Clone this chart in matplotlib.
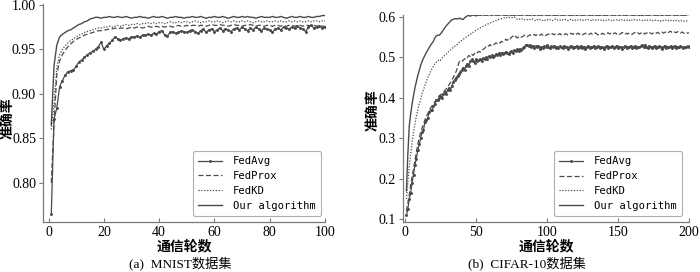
import numpy as np
import matplotlib
matplotlib.use("Agg")
import matplotlib.pyplot as plt
from matplotlib.ticker import FormatStrFormatter

# ---- data: MNIST, rounds 1..100 ----
mnist_rounds = np.arange(1, 101)
mnist_fedavg = [
    0.765, 0.872, 0.884, 0.908, 0.915, 0.921, 0.925, 0.926, 0.927, 0.931,
    0.936, 0.938, 0.941, 0.944, 0.946, 0.948, 0.950, 0.953, 0.958, 0.950,
    0.954, 0.957, 0.960, 0.964, 0.962, 0.960, 0.962, 0.963, 0.962, 0.964,
    0.964, 0.965, 0.964, 0.966, 0.966, 0.967, 0.966, 0.968, 0.967, 0.970,
    0.971, 0.966, 0.965, 0.969, 0.970, 0.968, 0.969, 0.971, 0.970, 0.969,
    0.971, 0.972, 0.970, 0.968, 0.971, 0.973, 0.969, 0.972, 0.973, 0.970,
    0.972, 0.974, 0.971, 0.973, 0.972, 0.970, 0.973, 0.974, 0.972, 0.975,
    0.973, 0.971, 0.974, 0.972, 0.975, 0.973, 0.971, 0.974, 0.973, 0.972,
    0.969, 0.973, 0.974, 0.972, 0.975, 0.974, 0.973, 0.975, 0.974, 0.976,
    0.974, 0.973, 0.970, 0.975, 0.977, 0.974, 0.975, 0.976, 0.974, 0.975]
mnist_fedprox = [
    0.800, 0.868, 0.922, 0.937, 0.944, 0.949, 0.953, 0.956, 0.959, 0.961,
    0.963, 0.964, 0.966, 0.967, 0.968, 0.969, 0.970, 0.971, 0.971, 0.972,
    0.972, 0.973, 0.973, 0.974, 0.973, 0.974, 0.974, 0.973, 0.974, 0.975,
    0.974, 0.975, 0.975, 0.974, 0.975, 0.976, 0.975, 0.975, 0.976, 0.975,
    0.976, 0.975, 0.976, 0.976, 0.975, 0.976, 0.977, 0.976, 0.976, 0.977,
    0.976, 0.977, 0.977, 0.976, 0.977, 0.977, 0.976, 0.977, 0.978, 0.977,
    0.977, 0.978, 0.977, 0.977, 0.976, 0.977, 0.978, 0.977, 0.977, 0.976,
    0.977, 0.977, 0.978, 0.977, 0.976, 0.977, 0.977, 0.976, 0.977, 0.977,
    0.976, 0.977, 0.977, 0.976, 0.977, 0.976, 0.977, 0.977, 0.976, 0.977,
    0.977, 0.976, 0.977, 0.977, 0.976, 0.977, 0.976, 0.977, 0.976, 0.976]
mnist_fedkd = [
    0.860, 0.890, 0.930, 0.944, 0.950, 0.954, 0.957, 0.960, 0.962, 0.964,
    0.966, 0.967, 0.969, 0.970, 0.971, 0.972, 0.973, 0.974, 0.974, 0.975,
    0.975, 0.976, 0.975, 0.976, 0.977, 0.976, 0.977, 0.978, 0.977, 0.978,
    0.978, 0.979, 0.978, 0.979, 0.979, 0.980, 0.979, 0.980, 0.979, 0.980,
    0.980, 0.979, 0.980, 0.981, 0.980, 0.980, 0.981, 0.980, 0.981, 0.981,
    0.980, 0.981, 0.982, 0.981, 0.980, 0.981, 0.981, 0.982, 0.981, 0.981,
    0.982, 0.981, 0.980, 0.981, 0.982, 0.981, 0.982, 0.981, 0.981, 0.982,
    0.981, 0.982, 0.981, 0.980, 0.981, 0.982, 0.981, 0.981, 0.982, 0.981,
    0.981, 0.982, 0.981, 0.982, 0.981, 0.981, 0.982, 0.981, 0.982, 0.981,
    0.982, 0.981, 0.981, 0.982, 0.981, 0.982, 0.982, 0.981, 0.982, 0.982]
mnist_ours = [
    0.865, 0.932, 0.955, 0.964, 0.967, 0.969, 0.971, 0.972, 0.974, 0.976,
    0.978, 0.979, 0.981, 0.982, 0.984, 0.985, 0.986, 0.986, 0.985, 0.986,
    0.986, 0.987, 0.986, 0.986, 0.987, 0.986, 0.986, 0.987, 0.986, 0.985,
    0.986, 0.986, 0.987, 0.986, 0.986, 0.985, 0.986, 0.987, 0.986, 0.986,
    0.987, 0.986, 0.985, 0.986, 0.986, 0.987, 0.986, 0.986, 0.985, 0.986,
    0.986, 0.987, 0.986, 0.986, 0.987, 0.986, 0.985, 0.986, 0.986, 0.987,
    0.986, 0.986, 0.987, 0.986, 0.985, 0.986, 0.987, 0.986, 0.986, 0.987,
    0.986, 0.987, 0.986, 0.986, 0.985, 0.986, 0.987, 0.986, 0.986, 0.986,
    0.987, 0.986, 0.986, 0.987, 0.986, 0.985, 0.986, 0.987, 0.986, 0.986,
    0.987, 0.986, 0.986, 0.987, 0.986, 0.986, 0.987, 0.987, 0.988, 0.988]

# ---- data: CIFAR-10, rounds 1..200 ----
cifar_rounds = np.arange(1, 201)
cifar_fedavg = [
    0.110, 0.125, 0.150, 0.165, 0.190, 0.210, 0.235, 0.250, 0.270, 0.285,
    0.300, 0.315, 0.320, 0.340, 0.345, 0.350, 0.365, 0.370, 0.370, 0.380,
    0.385, 0.395, 0.395, 0.400, 0.405, 0.400, 0.410, 0.415, 0.410, 0.420,
    0.425, 0.420, 0.430, 0.440, 0.445, 0.450, 0.455, 0.460, 0.465, 0.470,
    0.475, 0.470, 0.480, 0.485, 0.480, 0.490, 0.495, 0.490, 0.487, 0.495,
    0.490, 0.493, 0.497, 0.492, 0.498, 0.495, 0.500, 0.497, 0.503, 0.500,
    0.505, 0.500, 0.503, 0.508, 0.505, 0.510, 0.506, 0.512, 0.508, 0.510,
    0.514, 0.510, 0.508, 0.513, 0.516, 0.512, 0.518, 0.515, 0.520, 0.517,
    0.522, 0.518, 0.524, 0.527, 0.530, 0.532, 0.528, 0.531, 0.526, 0.529,
    0.524, 0.528, 0.525, 0.529, 0.522, 0.527, 0.524, 0.528, 0.525, 0.530,
    0.526, 0.523, 0.528, 0.525, 0.529, 0.524, 0.527, 0.523, 0.528, 0.526,
    0.524, 0.529, 0.525, 0.527, 0.522, 0.526, 0.529, 0.524, 0.527, 0.525,
    0.528, 0.523, 0.526, 0.529, 0.524, 0.527, 0.522, 0.526, 0.528, 0.524,
    0.527, 0.525, 0.529, 0.523, 0.526, 0.528, 0.524, 0.527, 0.525, 0.522,
    0.526, 0.529, 0.524, 0.527, 0.525, 0.528, 0.523, 0.526, 0.529, 0.524,
    0.527, 0.525, 0.522, 0.526, 0.528, 0.524, 0.527, 0.525, 0.529, 0.523,
    0.526, 0.528, 0.524, 0.527, 0.525, 0.528, 0.530, 0.526, 0.531, 0.527,
    0.524, 0.528, 0.526, 0.523, 0.527, 0.529, 0.524, 0.526, 0.528, 0.525,
    0.522, 0.526, 0.529, 0.524, 0.527, 0.525, 0.528, 0.523, 0.526, 0.529,
    0.524, 0.527, 0.525, 0.528, 0.526, 0.524, 0.527, 0.525, 0.528, 0.526]
cifar_fedprox = [
    0.120, 0.140, 0.160, 0.185, 0.205, 0.225, 0.245, 0.265, 0.285, 0.300,
    0.315, 0.325, 0.335, 0.345, 0.355, 0.360, 0.370, 0.375, 0.380, 0.385,
    0.390, 0.395, 0.400, 0.405, 0.408, 0.410, 0.415, 0.418, 0.422, 0.428,
    0.432, 0.438, 0.445, 0.450, 0.458, 0.465, 0.475, 0.488, 0.492, 0.490,
    0.493, 0.497, 0.495, 0.500, 0.505, 0.502, 0.508, 0.505, 0.510, 0.508,
    0.512, 0.515, 0.513, 0.518, 0.520, 0.522, 0.527, 0.530, 0.528, 0.532,
    0.528, 0.530, 0.533, 0.536, 0.534, 0.538, 0.536, 0.540, 0.538, 0.541,
    0.545, 0.542, 0.548, 0.546, 0.550, 0.553, 0.549, 0.552, 0.548, 0.551,
    0.553, 0.550, 0.552, 0.555, 0.553, 0.551, 0.554, 0.556, 0.553, 0.555,
    0.557, 0.554, 0.556, 0.553, 0.555, 0.558, 0.555, 0.557, 0.554, 0.556,
    0.558, 0.555, 0.557, 0.559, 0.556, 0.558, 0.555, 0.557, 0.559, 0.556,
    0.558, 0.556, 0.559, 0.557, 0.555, 0.558, 0.560, 0.557, 0.559, 0.556,
    0.558, 0.560, 0.557, 0.559, 0.556, 0.558, 0.560, 0.557, 0.555, 0.558,
    0.560, 0.557, 0.559, 0.561, 0.558, 0.556, 0.559, 0.557, 0.560, 0.558,
    0.556, 0.559, 0.561, 0.558, 0.560, 0.557, 0.559, 0.561, 0.558, 0.560,
    0.557, 0.559, 0.562, 0.559, 0.557, 0.560, 0.558, 0.561, 0.559, 0.557,
    0.560, 0.562, 0.559, 0.561, 0.558, 0.560, 0.563, 0.560, 0.558, 0.561,
    0.559, 0.562, 0.560, 0.558, 0.561, 0.563, 0.560, 0.562, 0.559, 0.561,
    0.563, 0.560, 0.562, 0.564, 0.561, 0.563, 0.565, 0.562, 0.560, 0.563,
    0.561, 0.564, 0.562, 0.560, 0.563, 0.561, 0.559, 0.562, 0.560, 0.561]
cifar_fedkd = [
    0.150, 0.190, 0.230, 0.260, 0.290, 0.315, 0.335, 0.355, 0.370, 0.385,
    0.395, 0.410, 0.420, 0.430, 0.440, 0.450, 0.458, 0.465, 0.472, 0.478,
    0.485, 0.488, 0.490, 0.495, 0.493, 0.498, 0.502, 0.505, 0.508, 0.512,
    0.515, 0.518, 0.522, 0.525, 0.528, 0.530, 0.533, 0.537, 0.540, 0.542,
    0.545, 0.548, 0.550, 0.552, 0.555, 0.557, 0.560, 0.562, 0.565, 0.567,
    0.569, 0.571, 0.573, 0.575, 0.577, 0.579, 0.580, 0.582, 0.584, 0.585,
    0.587, 0.588, 0.590, 0.591, 0.592, 0.594, 0.595, 0.596, 0.597, 0.598,
    0.597, 0.599, 0.598, 0.600, 0.599, 0.598, 0.600, 0.597, 0.595, 0.596,
    0.594, 0.596, 0.595, 0.593, 0.595, 0.594, 0.592, 0.594, 0.593, 0.595,
    0.593, 0.591, 0.594, 0.592, 0.594, 0.593, 0.591, 0.593, 0.592, 0.594,
    0.592, 0.594, 0.593, 0.591, 0.593, 0.595, 0.592, 0.594, 0.593, 0.591,
    0.593, 0.592, 0.594, 0.593, 0.591, 0.593, 0.595, 0.592, 0.594, 0.592,
    0.591, 0.593, 0.592, 0.594, 0.593, 0.591, 0.593, 0.592, 0.594, 0.593,
    0.591, 0.594, 0.592, 0.593, 0.591, 0.593, 0.594, 0.592, 0.593, 0.591,
    0.593, 0.592, 0.594, 0.592, 0.591, 0.593, 0.592, 0.594, 0.593, 0.591,
    0.592, 0.594, 0.593, 0.591, 0.593, 0.592, 0.594, 0.592, 0.590, 0.593,
    0.592, 0.594, 0.593, 0.591, 0.593, 0.592, 0.591, 0.593, 0.592, 0.594,
    0.592, 0.591, 0.593, 0.592, 0.590, 0.592, 0.593, 0.591, 0.592, 0.590,
    0.592, 0.591, 0.593, 0.592, 0.590, 0.592, 0.591, 0.593, 0.591, 0.590,
    0.592, 0.591, 0.590, 0.592, 0.591, 0.589, 0.591, 0.590, 0.591, 0.590]
cifar_ours = [
    0.170, 0.260, 0.330, 0.360, 0.385, 0.405, 0.425, 0.440, 0.455, 0.468,
    0.480, 0.490, 0.498, 0.505, 0.512, 0.518, 0.524, 0.530, 0.535, 0.540,
    0.548, 0.553, 0.555, 0.555, 0.558, 0.563, 0.568, 0.573, 0.578, 0.582,
    0.586, 0.590, 0.593, 0.594, 0.596, 0.596, 0.595, 0.597, 0.596, 0.595,
    0.594, 0.598, 0.601, 0.603, 0.604, 0.602, 0.604, 0.605, 0.604, 0.603,
    0.604, 0.605, 0.604, 0.605, 0.606, 0.604, 0.605, 0.604, 0.606, 0.605,
    0.604, 0.605, 0.606, 0.604, 0.605, 0.604, 0.605, 0.606, 0.605, 0.604,
    0.605, 0.604, 0.606, 0.605, 0.604, 0.605, 0.604, 0.605, 0.606, 0.604,
    0.605, 0.604, 0.605, 0.606, 0.605, 0.604, 0.605, 0.604, 0.606, 0.605,
    0.604, 0.605, 0.606, 0.604, 0.605, 0.604, 0.605, 0.606, 0.605, 0.604,
    0.605, 0.604, 0.606, 0.605, 0.604, 0.605, 0.604, 0.605, 0.606, 0.604,
    0.605, 0.604, 0.605, 0.606, 0.605, 0.604, 0.605, 0.604, 0.606, 0.605,
    0.604, 0.605, 0.606, 0.604, 0.605, 0.604, 0.605, 0.606, 0.605, 0.604,
    0.605, 0.604, 0.606, 0.605, 0.604, 0.605, 0.604, 0.605, 0.606, 0.604,
    0.605, 0.604, 0.605, 0.606, 0.605, 0.604, 0.605, 0.604, 0.606, 0.605,
    0.604, 0.605, 0.606, 0.604, 0.605, 0.604, 0.605, 0.606, 0.605, 0.604,
    0.605, 0.604, 0.606, 0.605, 0.604, 0.605, 0.604, 0.605, 0.606, 0.604,
    0.605, 0.604, 0.605, 0.606, 0.605, 0.604, 0.605, 0.604, 0.606, 0.605,
    0.604, 0.605, 0.606, 0.604, 0.605, 0.604, 0.605, 0.606, 0.605, 0.604,
    0.605, 0.604, 0.606, 0.605, 0.604, 0.605, 0.604, 0.605, 0.606, 0.606]

labels = ["FedAvg", "FedProx", "FedKD", "Our algorithm"]
mnist_yticks = [0.80, 0.85, 0.90, 0.95, 1.00]
cifar_yticks = [0.1, 0.2, 0.3, 0.4, 0.5, 0.6]

serif = ["Liberation Serif", "Noto Sans CJK SC"]
cjk = ["Noto Sans CJK SC", "DejaVu Sans"]
line_col = "#4a4a4a"
spine_col = "#7a7a7a"

fig = plt.figure(figsize=(7.0, 2.72), dpi=100)
ax1 = fig.add_axes([43 / 700, 50 / 272, 282 / 700, 218 / 272])
ax2 = fig.add_axes([403 / 700, 50 / 272, 286 / 700, 207 / 272])


def draw(ax, x, series):
    avg, prox, kd, ours = series
    ax.plot(x, avg, color=line_col, lw=0.9, marker=".", ms=2.2, label=labels[0])
    ax.plot(x, prox, color=line_col, lw=0.9, ls=(0, (4, 2)), label=labels[1])
    ax.plot(x, kd, color=line_col, lw=0.9, ls=(0, (1, 1.3)), label=labels[2])
    ax.plot(x, ours, color=line_col, lw=1.0, label=labels[3])
    for s in ["top", "right"]:
        ax.spines[s].set_visible(False)
    for s in ["left", "bottom"]:
        ax.spines[s].set_color(spine_col)
        ax.spines[s].set_linewidth(0.9)
    ax.tick_params(axis="x", direction="in", length=3, color=spine_col, pad=3)
    ax.tick_params(axis="y", direction="out", length=3, color=spine_col, pad=2)
    for t in ax.get_xticklabels() + ax.get_yticklabels():
        t.set_family(serif)
        t.set_fontsize(10)
    ax.set_xlabel("通信轮数", family=cjk, fontsize=10, fontweight="bold", labelpad=0)
    ax.set_ylabel("准确率", family=cjk, fontsize=10, fontweight="bold")


ax1.set_xlim(-2, 100)
ax1.set_ylim(0.756, 1.001)
ax1.set_xticks([0, 20, 40, 60, 80, 100])
ax1.set_yticks(mnist_yticks)
ax1.yaxis.set_major_formatter(FormatStrFormatter("%.2f"))
draw(ax1, mnist_rounds, [mnist_fedavg, mnist_fedprox, mnist_fedkd, mnist_ours])
# y-label anchor (its right edge) placed from the reference, in pixels
ax1.yaxis.set_label_coords((14.5 - 43) / 282, (222 - 118) / 218)

ax2.set_xlim(-1.4, 200)
ax2.set_ylim(0.093, 0.605)
ax2.set_xticks([0, 50, 100, 150, 200])
ax2.set_yticks(cifar_yticks)
ax2.yaxis.set_major_formatter(FormatStrFormatter("%.1f"))
draw(ax2, cifar_rounds, [cifar_fedavg, cifar_fedprox, cifar_fedkd, cifar_ours])
ax2.yaxis.set_label_coords((379 - 403) / 286, (222 - 110) / 207)

for ax, anchor in [(ax1, (0.986, 0.028)), (ax2, (0.976, 0.029))]:
    leg = ax.legend(loc="lower right", bbox_to_anchor=anchor, borderaxespad=0,
                    prop={"family": "DejaVu Sans Mono", "size": 7.6},
                    handlelength=2.3, handletextpad=1.0, labelspacing=0.45,
                    borderpad=0.5, fancybox=True, framealpha=1)
    leg.get_frame().set_edgecolor("#b0b0b0")
    leg.get_frame().set_linewidth(0.8)

fig.text(180 / 700, 1 - 263 / 272, "(a)  MNIST数据集", ha="center", va="center",
         family=serif, fontsize=9.5)
fig.text(527 / 700, 1 - 263 / 272, "(b)  CIFAR-10数据集", ha="center", va="center",
         family=serif, fontsize=9.5)

fig.savefig("out.png", dpi=100)
